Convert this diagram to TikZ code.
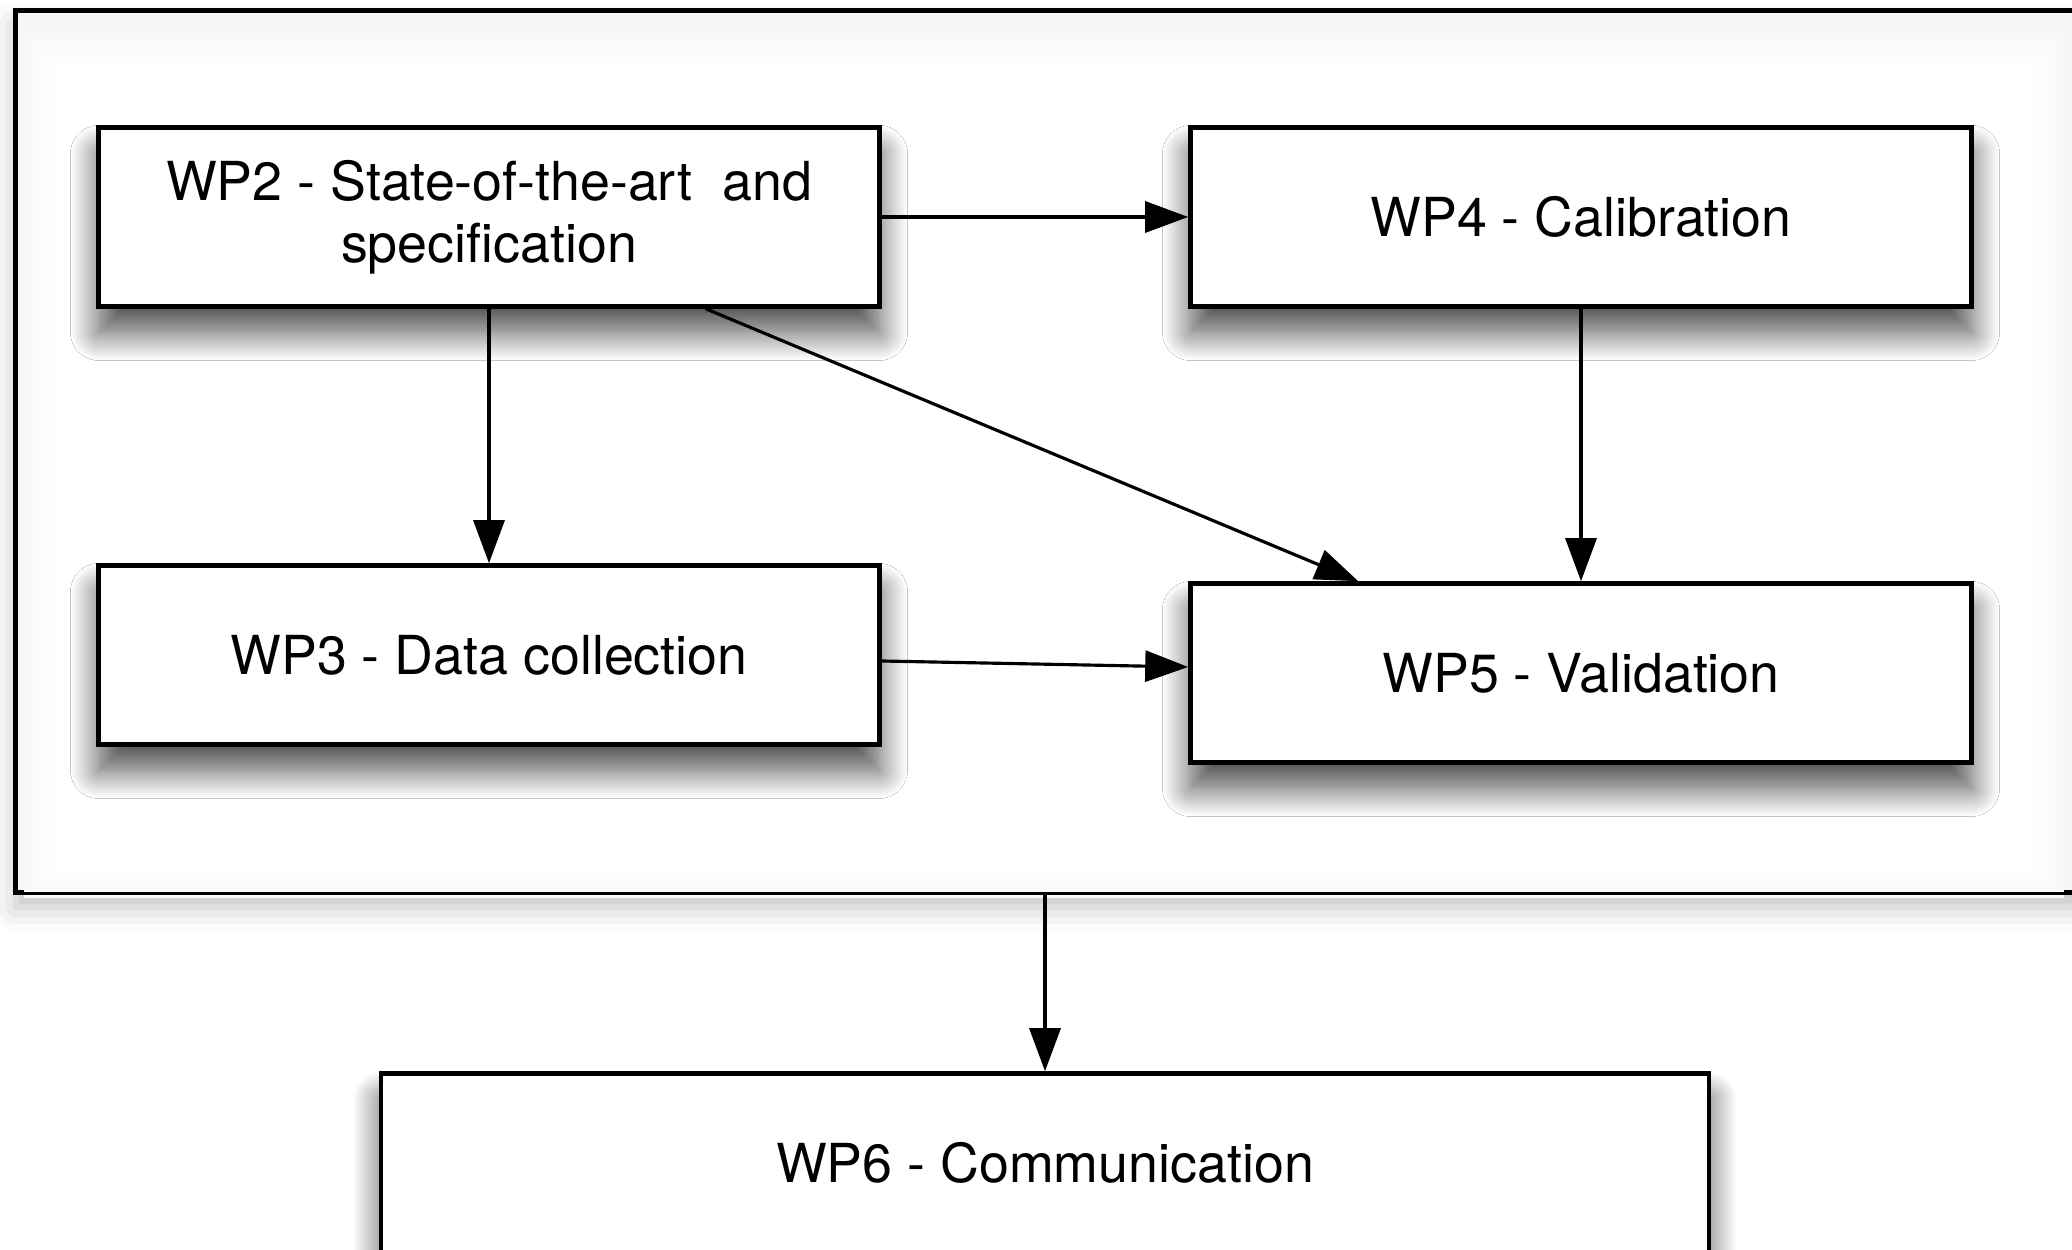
\documentclass[tikz,border=0pt]{standalone}
\usepackage{fontspec}
\setmainfont{TeX Gyre Heros}
\usetikzlibrary{arrows.meta}
\usetikzlibrary{shadows.blur}

\begin{document}
\begin{tikzpicture}[x=0.1mm, y=-0.1mm,
  wp/.style={rectangle, draw=black, line width=1.3pt, fill=white, minimum width=78.1mm, minimum height=17.9mm, inner sep=0pt, align=center, font=\fontsize{15.3}{17.6}\selectfont, blur shadow={shadow xshift=0mm, shadow yshift=-2.6mm, shadow blur radius=2.8mm, shadow blur steps=20, shadow opacity=70}},
  phasebox/.style={rectangle, draw=black, line width=0.9pt, fill=gray!7, minimum width=208.4mm, minimum height=88.1mm, inner sep=0pt, blur shadow={shadow xshift=0mm, shadow yshift=-1.5mm, shadow blur radius=2.4mm, shadow opacity=25}},
  arr/.style={line width=0.9pt, -{Triangle[length=4.3mm, width=3.1mm]}}]
\useasboundingbox (0,0) rectangle (2072,1250);

\node[phasebox] (phase) at (1058,451.5) {};
% soft white inside of the frame
\foreach \d/\c in {32/5.5,24/4,16/2.5,8/1,0/0}
  \fill[gray!\c] (56-\d,66-\d) rectangle (2032+\d,866+\d);
\draw[line width=0.9pt] (phase.south west) rectangle (phase.north east);

\node[wp] (wp2) at (489,217) {WP2 - State-of-the-art\ \ and\\specification};
\node[wp] (wp4) at (1581,217) {WP4 - Calibration};
\node[wp] (wp3) at (489,655) {WP3 - Data collection};
\node[wp] (wp5) at (1581,673) {WP5 - Validation};
\node[wp, minimum width=132.8mm] (wp6) at (1045,1163) {WP6 - Communication};

\draw[arr] (wp2.east) -- (wp4.west);
\draw[arr] (wp2.south) -- (wp3.north);
\draw[arr] ([xshift=-17.6mm]wp2.south east) -- ([xshift=17mm]wp5.north west);
\draw[arr] (wp4.south) -- (wp5.north);
\draw[arr] ([yshift=-0.6mm]wp3.east) -- ([yshift=0.6mm]wp5.west);
\draw[arr] (phase.south -| wp6.north) -- (wp6.north);

\end{tikzpicture}
\end{document}
